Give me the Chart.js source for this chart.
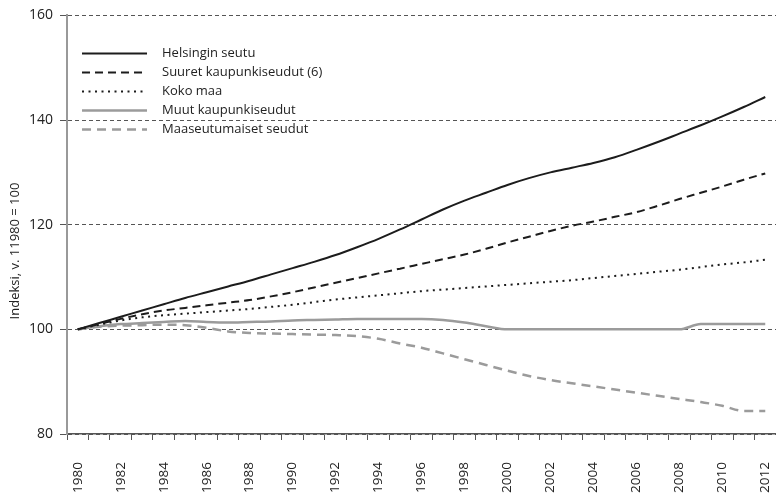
<!DOCTYPE html>
<html lang="fi">
<head>
    <meta charset="UTF-8">
    <title>Väestön kehitys 1980–2012</title>
    <script src="https://cdn.jsdelivr.net/npm/chart.js"></script>
    <style>
        body { margin: 0; background: #fff; }
        .chart-wrap { width: 776px; height: 495px; }
    </style>
</head>
<body>
    <div class="chart-wrap"><canvas id="indexChart"></canvas></div>
    <script>
        // vuodet (x-akseli)
        const years = ['1980','1981','1982','1983','1984','1985','1986','1987','1988','1989',
                       '1990','1991','1992','1993','1994','1995','1996','1997','1998','1999',
                       '2000','2001','2002','2003','2004','2005','2006','2007','2008','2009',
                       '2010','2011','2012'];

        // indeksit, 1980 = 100 (luettu kuvasta)
        const helsinki = [100, 101.2, 102.4, 103.6, 104.8, 106.0, 107.1, 108.2, 109.3, 110.5,
                          111.7, 112.9, 114.2, 115.7, 117.3, 119.1, 121.0, 122.9, 124.6, 126.1,
                          127.6, 128.9, 130.0, 130.9, 131.8, 132.9, 134.3, 135.8, 137.4, 139.0,
                          140.7, 142.5, 144.4];
        const suuret = [100, 101.0, 102.0, 102.9, 103.6, 104.1, 104.6, 105.1, 105.6, 106.3,
                        107.1, 108.0, 108.9, 109.8, 110.7, 111.6, 112.5, 113.4, 114.3, 115.4,
                        116.6, 117.7, 118.8, 119.8, 120.6, 121.5, 122.4, 123.6, 124.9, 126.1,
                        127.3, 128.6, 129.8];
        const kokoMaa = [100, 100.9, 101.7, 102.3, 102.7, 103.0, 103.3, 103.6, 103.9, 104.3,
                         104.7, 105.2, 105.7, 106.1, 106.5, 106.9, 107.3, 107.6, 107.9, 108.2,
                         108.5, 108.8, 109.1, 109.4, 109.8, 110.2, 110.6, 111.0, 111.4, 111.9,
                         112.4, 112.8, 113.3];
        const muut = [100, 100.6, 101.0, 101.2, 101.4, 101.6, 101.4, 101.3, 101.4, 101.5,
                      101.7, 101.8, 101.9, 102.0, 102.0, 102.0, 102.0, 101.8, 101.3, 100.6,
                      100, 100, 100, 100, 100, 100, 100, 100, 100, 101.0,
                      101.0, 101.0, 101.0];
        const maaseutu = [100, 100.5, 100.7, 100.8, 100.9, 100.8, 100.3, 99.6, 99.3, 99.2,
                          99.1, 99.0, 98.9, 98.7, 98.2, 97.3, 96.5, 95.4, 94.3, 93.2,
                          92.1, 91.1, 90.3, 89.7, 89.1, 88.5, 87.9, 87.3, 86.7, 86.1,
                          85.4, 84.4, 84.4];

        const yTicks = [80, 100, 120, 140, 160];
        const yTitle = 'Indeksi, v. 11980 = 100';

        const FONT = '"Open Sans", "Noto Sans", sans-serif';
        const BLACK = '#1c1c1c';
        const GREY = '#9b9b9b';

        // selite ja y-akselin otsikko piirretään itse kuvaajan sisälle
        const insideLegend = {
            id: 'insideLegend',
            afterDraw(chart) {
                const ctx = chart.ctx;
                const area = chart.chartArea;
                ctx.save();
                ctx.font = '13px ' + FONT;
                ctx.textBaseline = 'middle';
                chart.data.datasets.forEach((ds, i) => {
                    const y = area.top + 38 + i * 19;
                    ctx.beginPath();
                    ctx.setLineDash(ds.borderDash || []);
                    ctx.strokeStyle = ds.borderColor;
                    ctx.lineWidth = ds.borderWidth;
                    ctx.moveTo(area.left + 15, y);
                    ctx.lineTo(area.left + 80, y);
                    ctx.stroke();
                    ctx.setLineDash([]);
                    ctx.fillStyle = '#222';
                    ctx.fillText(ds.label, area.left + 95, y);
                });
                // y-akselin otsikko
                ctx.translate(15, 251);
                ctx.rotate(-Math.PI / 2);
                ctx.textAlign = 'center';
                ctx.fillStyle = '#222';
                ctx.fillText(yTitle, 0, 0);
                ctx.restore();
            }
        };

        const ctx = document.getElementById('indexChart').getContext('2d');
        const indexChart = new Chart(ctx, {
            type: 'line',
            data: {
                labels: years,
                datasets: [
                    { label: 'Helsingin seutu', data: helsinki, borderColor: BLACK, borderWidth: 2 },
                    { label: 'Suuret kaupunkiseudut (6)', data: suuret, borderColor: BLACK, borderWidth: 2, borderDash: [8, 5] },
                    { label: 'Koko maa', data: kokoMaa, borderColor: BLACK, borderWidth: 2, borderDash: [2, 4.5] },
                    { label: 'Muut kaupunkiseudut', data: muut, borderColor: GREY, borderWidth: 2.5 },
                    { label: 'Maaseutumaiset seudut', data: maaseutu, borderColor: GREY, borderWidth: 2.5, borderDash: [9, 6] }
                ]
            },
            options: {
                responsive: true,
                maintainAspectRatio: false,
                animation: false,
                layout: { padding: { left: 22, top: 6, right: 0, bottom: 0 } },
                elements: {
                    point: { radius: 0 },
                    line: { cubicInterpolationMode: 'monotone', fill: false }
                },
                plugins: {
                    legend: { display: false },
                    tooltip: { enabled: false }
                },
                scales: {
                    x: {
                        offset: true,
                        // ei sivupehmusteita kierretyille otsikoille, kiinteä korkeus
                        afterFit: (scale) => { scale.paddingLeft = 0; scale.paddingRight = 0; scale.height = 61; },
                        grid: { display: true, drawOnChartArea: false, offset: true, tickLength: 6, tickColor: '#555', tickWidth: 1 },
                        border: { color: '#555', width: 1.5 },
                        ticks: {
                            autoSkip: false,
                            minRotation: 90,
                            maxRotation: 90,
                            padding: 22,
                            color: '#222',
                            font: { family: FONT, size: 13.5 },
                            callback: (val, i) => (i % 2 === 0 ? years[i] : '')
                        }
                    },
                    y: {
                        min: 80,
                        max: 160,
                        afterBuildTicks: (scale) => { scale.ticks = yTicks.map(v => ({ value: v })); },
                        grid: { color: '#555', lineWidth: 1, tickLength: 7, tickColor: '#555', tickBorderDash: [] },
                        border: { color: '#999', width: 2, dash: [4, 3] },
                        ticks: {
                            padding: 7,
                            color: '#222',
                            font: { family: FONT, size: 14 }
                        }
                    }
                }
            },
            plugins: [insideLegend]
        });
    </script>
</body>
</html>
